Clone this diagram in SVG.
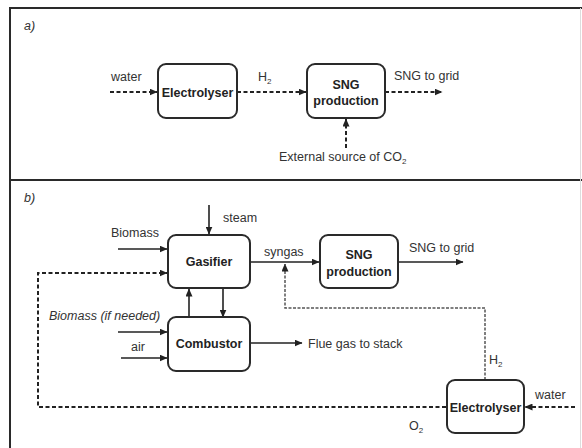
<svg xmlns="http://www.w3.org/2000/svg" width="582" height="448" viewBox="0 0 582 448">
<defs>
<marker id="ah" markerUnits="userSpaceOnUse" markerWidth="8" markerHeight="7" refX="7.5" refY="3.5" orient="auto">
<path d="M0,0 L8,3.5 L0,7 z" fill="#222"/>
</marker>
<style>
.box{fill:#fff;stroke:#2a2a2a;stroke-width:2}
.t{font-family:"Liberation Sans",Arial,sans-serif;font-size:12.5px;fill:#333}
.b{font-family:"Liberation Sans",Arial,sans-serif;font-size:12.5px;font-weight:bold;fill:#222}
.i{font-style:italic}
.s{fill:none;stroke:#222;stroke-width:1.6}
.d{fill:none;stroke:#222;stroke-width:2;stroke-dasharray:4 2.5}
.dl{fill:none;stroke:#555;stroke-width:1.5;stroke-dasharray:3 1.5}
.sub{font-size:8px}
</style>
</defs>
<rect width="582" height="448" fill="#fff"/>
<g id="frame" fill="none" stroke="#2a2a2a">
<path d="M10,448 L10,8 L582,8" stroke-width="2"/>
<path d="M10,180 L582,180" stroke-width="2"/>
<path d="M580.5,8 L580.5,448" stroke="#ddd" stroke-width="1"/>
</g>
<text class="t i" x="24" y="30" font-size="14">a)</text>
<text class="t i" x="24" y="202" font-size="14">b)</text>

<g id="connectors">
<path class="d" d="M110,92 L157,92" marker-end="url(#ah)"/>
<path class="d" d="M237,92 L306,92" marker-end="url(#ah)"/>
<path class="d" d="M385,92 L442,92" marker-end="url(#ah)"/>
<path class="d" d="M346,148 L346,119" marker-end="url(#ah)"/>
<path class="s" d="M209,205 L209,234" marker-end="url(#ah)"/>
<path class="s" d="M118,249 L167,249" marker-end="url(#ah)"/>
<path class="d" d="M446,407 L38,407 L38,273 L167,273" marker-end="url(#ah)"/>
<path class="s" d="M189,317 L189,289" marker-end="url(#ah)"/>
<path class="s" d="M223,289 L223,317" marker-end="url(#ah)"/>
<path class="s" d="M118,332 L167,332" marker-end="url(#ah)"/>
<path class="s" d="M121,358 L167,358" marker-end="url(#ah)"/>
<path class="s" d="M250,343 L302,343" marker-end="url(#ah)"/>
<path class="s" d="M250,262 L319,262" marker-end="url(#ah)"/>
<path class="s" d="M398,262 L463,262" marker-end="url(#ah)"/>
<path class="dl" d="M485,380 L485,308 L285,308 L285,264" marker-end="url(#ah)"/>
<path class="d" d="M575,407 L525,407" marker-end="url(#ah)"/>
</g>

<g id="labels">
<text class="t" x="111" y="81">water</text>
<text class="t" x="258" y="81">H<tspan class="sub" dy="3">2</tspan></text>
<text class="t" x="394" y="80">SNG to grid</text>
<text class="t" x="279" y="161">External source of CO<tspan class="sub" dy="3">2</tspan></text>
<text class="t" x="223" y="222">steam</text>
<text class="t" x="111" y="237">Biomass</text>
<text class="t" x="264" y="256">syngas</text>
<text class="t" x="409" y="252">SNG to grid</text>
<text class="t i" x="49" y="320">Biomass (if needed)</text>
<text class="t" x="131" y="351">air</text>
<text class="t" x="308" y="348">Flue gas to stack</text>
<text class="t" x="489" y="364">H<tspan class="sub" dy="3">2</tspan></text>
<text class="t" x="535" y="399">water</text>
<text class="t" x="409" y="430">O<tspan class="sub" dy="3">2</tspan></text>
</g>

<g id="electrolyser-a">
<rect class="box" x="158" y="64" width="79" height="54" rx="8"/>
<text class="b" x="197.5" y="96.5" text-anchor="middle">Electrolyser</text>
</g>
<g id="sng-a">
<rect class="box" x="307" y="64" width="78" height="54" rx="8"/>
<text class="b" x="346" y="89" text-anchor="middle">SNG</text>
<text class="b" x="346" y="105" text-anchor="middle">production</text>
</g>
<g id="gasifier">
<rect class="box" x="168" y="235" width="82" height="53" rx="8"/>
<text class="b" x="209" y="266" text-anchor="middle">Gasifier</text>
</g>
<g id="combustor">
<rect class="box" x="168" y="317" width="82" height="54" rx="8"/>
<text class="b" x="209" y="348" text-anchor="middle">Combustor</text>
</g>
<g id="sng-b">
<rect class="box" x="320" y="235" width="78" height="53" rx="8"/>
<text class="b" x="359" y="259" text-anchor="middle">SNG</text>
<text class="b" x="359" y="276" text-anchor="middle">production</text>
</g>
<g id="electrolyser-b">
<rect class="box" x="447" y="380" width="77" height="53" rx="8"/>
<text class="b" x="485.5" y="412" text-anchor="middle">Electrolyser</text>
</g>
</svg>
